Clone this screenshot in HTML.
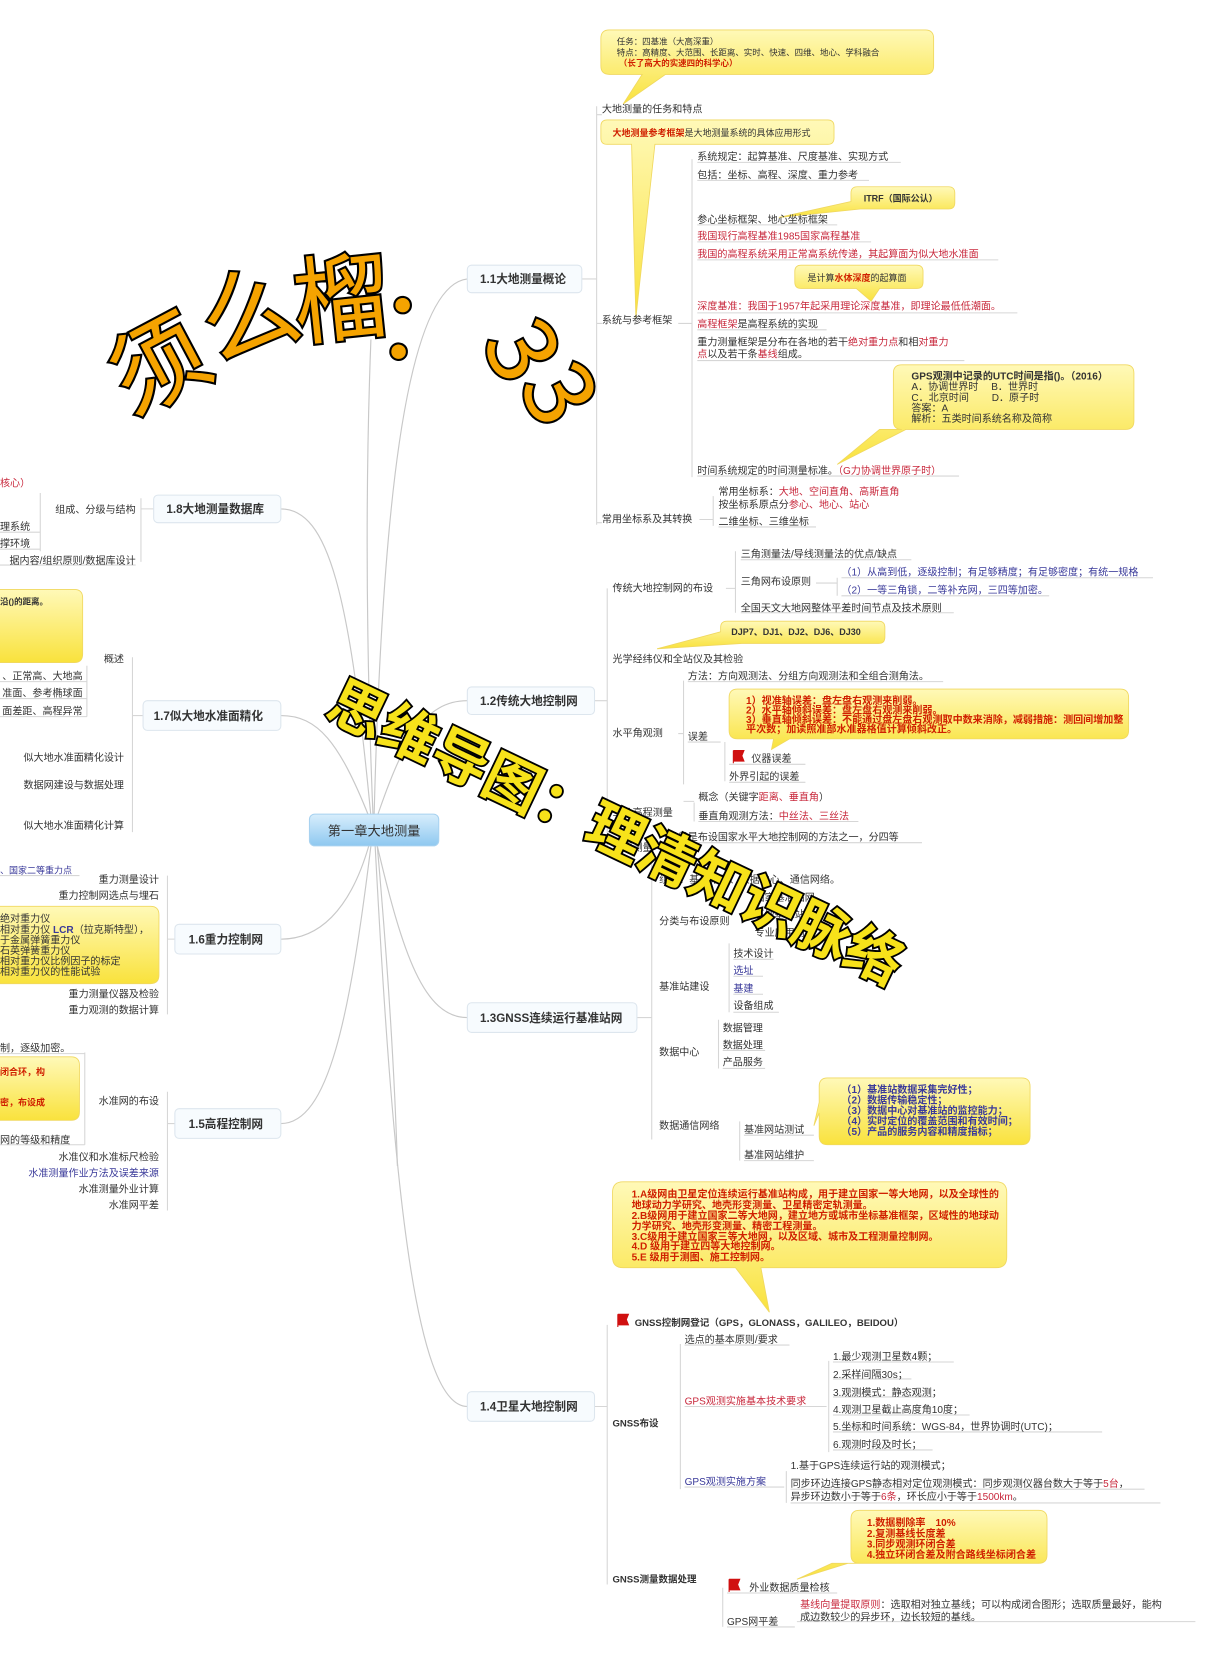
<!DOCTYPE html>
<html><head><meta charset="utf-8"><style>
html,body{margin:0;padding:0;background:#fff;}
svg{display:block;}
text{font-family:"Liberation Sans","Noto Sans CJK SC",sans-serif;font-size:9.5px;fill:#333;}
.b{font-weight:bold;}
.r{fill:#c8283c;}
.o{fill:#d02000;font-weight:bold;}
.bl{fill:#3a3a9a;}
.n{font-size:11px;font-weight:bold;fill:#333;}
.wm1{font-family:"Noto Sans CJK SC",sans-serif;font-size:90px;font-weight:normal;fill:#f5a300;stroke:#000;stroke-width:4px;paint-order:stroke;}
.wm2{font-family:"Noto Sans CJK SC",sans-serif;font-size:54px;font-weight:bold;fill:#f7e21a;stroke:#000;stroke-width:3.5px;paint-order:stroke;}
</style></head><body>
<svg width="1224" height="1660" viewBox="0 0 1155 1566" xmlns="http://www.w3.org/2000/svg">
<defs>
<linearGradient id="y" x1="0" y1="0" x2="0" y2="1"><stop offset="0" stop-color="#fff9b8"/><stop offset="1" stop-color="#f9e23c"/></linearGradient>
<linearGradient id="bg" x1="0" y1="0" x2="0" y2="1"><stop offset="0" stop-color="#d8eefc"/><stop offset="1" stop-color="#8ec8f0"/></linearGradient>
</defs>

<g fill="none" stroke="#c8c8c8" stroke-width="1.1">
<path d="M353 770 C360 500 380 270 441 263"/>
<path d="M350 770 C330 560 310 480 265 480"/>
<path d="M348 770 C320 700 300 675 265 675"/>
<path d="M356 770 C380 700 400 661 441 661"/>
<path d="M348 798 C330 860 300 886 265 886"/>
<path d="M356 798 C380 900 400 960 441 960"/>
<path d="M350 798 C330 960 310 1060 265 1060"/>
<path d="M354 798 C370 1100 390 1327 441 1327"/>
<path d="M352 770 C345 600 345 450 350 320"/>
<path d="M356 798 C365 900 372 1000 375 1100"/>
</g>
<g fill="none" stroke="#d6d6d6" stroke-width="1">
<path d="M549 263 H563 M563 100 V495 M563 108 H568 M563 305 H568 M563 493 H568"/>
<path d="M640 305 H653 M653 150 V450"/>
<path d="M658 153 H850 M658 170 H820 M658 212 H790 M658 228 H822 M658 245 H942 M658 295 H960 M658 311 H780 M658 340 H910 M658 449 H905"/>
<path d="M660 490 H673 M673 468 V496 M678 497 H770"/>
<path d="M561 661 H573 M573 555 V800"/>
<path d="M685 555 H694 M694 520 V578 M699 578 H900 M699 528 H860 M770 550 H790 M790 545 V562 M794 545 H1088 M794 562 H990"/>
<path d="M640 692 H645 M645 642 V740 M649 643 H890 M649 700 H680 M684 700 V737 M688 721 H760 M688 738 H760"/>
<path d="M645 756 H655 M655 757 V775 M659 775 H810"/>
<path d="M630 795 H870"/>
<path d="M601 960 H615 M615 815 V1075"/>
<path d="M688 890 V955 M692 905 H730 M692 921 H720 M692 938 H720 M692 955 H735"/>
<path d="M678 962 V1008 M682 991 H722 M682 1008 H722"/>
<path d="M698 1058 V1095 M702 1071 H768 M702 1095 H768"/>
<path d="M561 1327 H573 M573 1250 V1495"/>
<path d="M642 1268 V1405 M646 1269 H745 M646 1327 H780 M782 1284 V1370 M786 1285 H900 M786 1301 H860 M786 1318 H880 M786 1335 H915 M786 1351 H1040 M786 1368 H880"/>
<path d="M742 1388 V1418 M746 1405 H1080 M746 1418 H1095 M646 1403 H740"/>
<path d="M682 1498 V1535 M686 1503 H790 M686 1535 H750 M752 1530 H1128"/>
<path d="M145 480 H133 M133 470 V530 M38 465 V520 M0 502 H38 M0 518 H38 M0 533 H128"/>
<path d="M135 675 H125 M125 620 V785 M0 643 H82 M82 628 V676 M0 659 H82 M0 676 H82"/>
<path d="M165 886 H158 M158 826 V957 M0 826 H75"/>
<path d="M165 1060 H158 M158 1030 V1142 M0 994 H80 M80 993 V1080 M0 1080 H80"/>
</g>

<g fill="url(#y)" stroke="#f0d860" stroke-width="0.8">
<path d="M575 28 H873 Q881 28 881 36 V62 Q881 70 873 70 H628 L588 98 L606 70 H575 Q567 70 567 62 V36 Q567 28 575 28Z"/>
<path d="M573 113 H781 Q787 113 787 119 V130 Q787 136 781 136 H618 L600 300 L596 136 H573 Q567 136 567 130 V119 Q567 113 573 113Z"/>
<path d="M809 176 H895 Q901 176 901 182 V191 Q901 197 895 197 H812 L735 205 L803 190 V182 Q803 176 809 176Z"/>
<path d="M756 250 H865 Q871 250 871 256 V266 Q871 272 865 272 H830 L822 284 L808 272 H756 Q750 272 750 266 V256 Q750 250 756 250Z"/>
<path d="M851 344 H1062 Q1070 344 1070 352 V397 Q1070 405 1062 405 H855 L790 438 L830 405 H851 Q843 405 843 397 V352 Q843 344 851 344Z"/>
<path d="M686 586 H829 Q835 586 835 592 V601 Q835 607 829 607 H700 L620 612 L680 596 V592 Q680 586 686 586Z"/>
<path d="M696 650 H1057 Q1065 650 1065 658 V689 Q1065 697 1057 697 H745 L728 707 L730 697 H696 Q688 697 688 689 V658 Q688 650 696 650Z"/>
<path d="M781 1017 H964 Q972 1017 972 1025 V1072 Q972 1080 964 1080 H781 Q773 1080 773 1072 V1050 L768 1062 L773 1040 V1025 Q773 1017 781 1017Z"/>
<path d="M588 1115 H940 Q950 1115 950 1125 V1186 Q950 1196 940 1196 H718 L726 1238 L694 1196 H588 Q578 1196 578 1186 V1125 Q578 1115 588 1115Z"/>
<path d="M811 1425 H980 Q988 1425 988 1433 V1467 Q988 1475 980 1475 H800 L752 1490 L785 1475 H811 Q803 1475 803 1467 V1433 Q803 1425 811 1425Z"/>
<path d="M-10 556 H70 Q78 556 78 564 V617 Q78 625 70 625 H-10Z"/>
<path d="M-10 855 H142 Q150 855 150 863 V920 Q150 928 142 928 H-10Z"/>
<path d="M-10 997 H67 Q75 997 75 1005 V1049 Q75 1057 67 1057 H-10Z"/>
</g>

<g fill="#f7fbfe" stroke="#dde6ee" stroke-width="1">
<rect x="441" y="250" width="108" height="26" rx="4"/>
<rect x="145" y="467" width="120" height="26" rx="4"/>
<rect x="135" y="661" width="130" height="28" rx="4"/>
<rect x="441" y="648" width="120" height="26" rx="4"/>
<rect x="165" y="872" width="100" height="28" rx="4"/>
<rect x="441" y="946" width="160" height="28" rx="4"/>
<rect x="165" y="1046" width="100" height="28" rx="4"/>
<rect x="441" y="1313" width="120" height="28" rx="4"/>
</g>
<rect x="292" y="768" width="122" height="30" rx="5" fill="url(#bg)" stroke="#a8d2f0"/>
<text x="353" y="788" text-anchor="middle" style="font-size:12.5px;fill:#333">第一章大地测量</text>
<text class="n" x="453" y="267">1.1大地测量概论</text>
<text class="n" x="157" y="484">1.8大地测量数据库</text>
<text class="n" x="145" y="679">1.7似大地水准面精化</text>
<text class="n" x="453" y="665">1.2传统大地控制网</text>
<text class="n" x="178" y="890">1.6重力控制网</text>
<text class="n" x="453" y="964">1.3GNSS连续运行基准站网</text>
<text class="n" x="178" y="1064">1.5高程控制网</text>
<text class="n" x="453" y="1331">1.4卫星大地控制网</text>

<text x="582" y="42" style="font-size:8px">任务：四基准（大高深重）</text>
<text x="582" y="52" style="font-size:8px">特点：高精度、大范围、长距离、实时、快速、四维、地心、学科融合</text>
<text x="584" y="62" style="font-size:8px" class="o">（长了高大的实速四的科学心）</text>
<text x="568" y="106">大地测量的任务和特点</text>
<text x="578" y="128" style="font-size:8.5px"><tspan class="o">大地测量参考框架</tspan>是大地测量系统的具体应用形式</text>
<text x="658" y="151">系统规定：起算基准、尺度基准、实现方式</text>
<text x="658" y="168">包括：坐标、高程、深度、重力参考</text>
<text x="815" y="190" class="b" style="font-size:8.5px">ITRF（国际公认）</text>
<text x="658" y="210">参心坐标框架、地心坐标框架</text>
<text x="658" y="226" class="r">我国现行高程基准1985国家高程基准</text>
<text x="658" y="243" class="r">我国的高程系统采用正常高系统传递，其起算面为似大地水准面</text>
<text x="762" y="265" style="font-size:8.5px">是计算<tspan class="o">水体深度</tspan>的起算面</text>
<text x="658" y="292" class="r">深度基准：我国于1957年起采用理论深度基准，即理论最低低潮面。</text>
<text x="568" y="305">系统与参考框架</text>
<text x="658" y="309"><tspan class="r">高程框架</tspan>是高程系统的实现</text>
<text x="658" y="326">重力测量框架是分布在各地的若干<tspan class="r">绝对重力点</tspan>和相<tspan class="r">对重力</tspan></text>
<text x="658" y="337"><tspan class="r">点</tspan>以及若干条<tspan class="r">基线</tspan>组成。</text>
<g style="font-size:8px"><text x="860" y="358" class="b">GPS观测中记录的UTC时间是指()。（2016）</text>
<text x="860" y="368">A．协调世界时　 B．世界时</text>
<text x="860" y="378">C．北京时间　　 D．原子时</text>
<text x="860" y="388">答案：A</text>
<text x="860" y="398">解析：五类时间系统名称及简称</text></g>
<text x="658" y="447">时间系统规定的时间测量标准。<tspan class="r">（G力协调世界原子时）</tspan></text>
<text x="678" y="467">常用坐标系：<tspan class="r">大地、空间直角、高斯直角</tspan></text>
<text x="678" y="479">按坐标系原点分<tspan class="r">参心、地心、站心</tspan></text>
<text x="568" y="493">常用坐标系及其转换</text>
<text x="678" y="495">二维坐标、三维坐标</text>

<text x="699" y="526">三角测量法/导线测量法的优点/缺点</text>
<text x="794" y="543" class="bl">（1）从高到低，逐级控制；有足够精度；有足够密度；有统一规格</text>
<text x="699" y="552">三角网布设原则</text>
<text x="578" y="558">传统大地控制网的布设</text>
<text x="794" y="560" class="bl">（2）一等三角锁，二等补充网，三四等加密。</text>
<text x="699" y="577">全国天文大地网整体平差时间节点及技术原则</text>
<text x="690" y="599" class="b" style="font-size:8.5px">DJP7、DJ1、DJ2、DJ6、DJ30</text>
<text x="578" y="625">光学经纬仪和全站仪及其检验</text>
<text x="649" y="641">方法：方向观测法、分组方向观测法和全组合测角法。</text>
<g style="font-size:7.6px"><text x="704" y="664" class="o">1）视准轴误差：盘左盘右观测来削弱。</text>
<text x="704" y="673" class="o">2）水平轴倾斜误差：盘左盘右观测来削弱。</text>
<text x="704" y="682" class="o">3）垂直轴倾斜误差：不能通过盘左盘右观测取中数来消除，减弱措施：测回间增加整</text>
<text x="704" y="691" class="o">平次数；加读照准部水准器格值计算倾斜改正。</text></g>
<text x="578" y="695">水平角观测</text>
<text x="649" y="698">误差</text>
<path d="M692 708 V720 M692 708 H702 L700 713 L702 718 H692" fill="#d01010" stroke="#d01010" stroke-width="1"/>
<text x="709" y="719">仪器误差</text>
<text x="688" y="736">外界引起的误差</text>
<text x="659" y="755">概念（关键字<tspan class="r">距离、垂直角</tspan>）</text>
<text x="578" y="770">三角高程测量</text>
<text x="659" y="773">垂直角观测方法：<tspan class="r">中丝法、三丝法</tspan></text>
<text x="630" y="793">导线是布设国家水平大地控制网的方法之一，分四等</text>
<text x="578" y="803">导线测量</text>

<text x="622" y="833">组成：基准站网、数据中心、通信网络。</text>
<text x="712" y="850">国家基准站网</text>
<text x="712" y="866">区域基准站网</text>
<text x="622" y="872">分类与布设原则</text>
<text x="712" y="883">专业应用网</text>
<text x="692" y="903">技术设计</text>
<text x="692" y="919" class="bl">选址</text>
<text x="692" y="936" class="bl">基建</text>
<text x="622" y="934">基准站建设</text>
<text x="692" y="952">设备组成</text>
<text x="682" y="973">数据管理</text>
<text x="682" y="989">数据处理</text>
<text x="622" y="996">数据中心</text>
<text x="682" y="1005">产品服务</text>
<g style="font-size:7.8px"><text x="794" y="1031" class="bl b">（1）基准站数据采集完好性；</text>
<text x="794" y="1041" class="bl b">（2）数据传输稳定性；</text>
<text x="794" y="1051" class="bl b">（3）数据中心对基准站的监控能力；</text>
<text x="794" y="1061" class="bl b">（4）实时定位的覆盖范围和有效时间；</text>
<text x="794" y="1071" class="bl b">（5）产品的服务内容和精度指标；</text></g>
<text x="622" y="1065">数据通信网络</text>
<text x="702" y="1069">基准网站测试</text>
<text x="702" y="1093">基准网站维护</text>

<g style="font-size:7.6px"><text x="596" y="1130" class="o">1.A级网由卫星定位连续运行基准站构成，用于建立国家一等大地网，以及全球性的</text>
<text x="596" y="1140" class="o">地球动力学研究、地壳形变测量、卫星精密定轨测量。</text>
<text x="596" y="1150" class="o">2.B级网用于建立国家二等大地网，建立地方或城市坐标基准框架，区域性的地球动</text>
<text x="596" y="1160" class="o">力学研究、地壳形变测量、精密工程测量。</text>
<text x="596" y="1170" class="o">3.C级用于建立国家三等大地网，以及区域、城市及工程测量控制网。</text>
<text x="596" y="1179" class="o">4.D 级用于建立四等大地控制网。</text>
<text x="596" y="1189" class="o">5.E 级用于测图、施工控制网。</text></g>
<path d="M583 1240 V1252 M583 1240 H593 L591 1245 L593 1250 H583" fill="#d01010" stroke="#d01010"/>
<text x="599" y="1251" class="b" style="font-size:9px">GNSS控制网登记（GPS，GLONASS，GALILEO，BEIDOU）</text>
<text x="646" y="1267">选点的基本原则/要求</text>
<text x="786" y="1283">1.最少观测卫星数4颗；</text>
<text x="786" y="1300">2.采样间隔30s；</text>
<text x="786" y="1317">3.观测模式：静态观测；</text>
<text x="646" y="1325" class="r">GPS观测实施基本技术要求</text>
<text x="786" y="1333">4.观测卫星截止高度角10度；</text>
<text x="578" y="1346" class="b" style="font-size:9px">GNSS布设</text>
<text x="786" y="1349">5.坐标和时间系统：WGS-84，世界协调时(UTC)；</text>
<text x="786" y="1366">6.观测时段及时长；</text>
<text x="746" y="1386">1.基于GPS连续运行站的观测模式；</text>
<text x="646" y="1401" class="bl">GPS观测实施方案</text>
<text x="746" y="1403">同步环边连接GPS静态相对定位观测模式：同步观测仪器台数大于等于<tspan class="r">5台</tspan>，</text>
<text x="746" y="1415">异步环边数小于等于<tspan class="r">6条</tspan>，环长应小于等于<tspan class="r">1500km</tspan>。</text>
<g style="font-size:8px"><text x="818" y="1440" class="o">1.数据剔除率　10%</text>
<text x="818" y="1450" class="o">2.复测基线长度差</text>
<text x="818" y="1460" class="o">3.同步观测环闭合差</text>
<text x="818" y="1470" class="o">4.独立环闭合差及附合路线坐标闭合差</text></g>
<text x="578" y="1493" class="b" style="font-size:9px">GNSS测量数据处理</text>
<path d="M688 1490 V1502 M688 1490 H698 L696 1495 L698 1500 H688" fill="#d01010" stroke="#d01010"/>
<text x="707" y="1501">外业数据质量检核</text>
<text x="755" y="1517"><tspan class="r">基线向量提取原则</tspan>：选取相对独立基线；可以构成闭合图形；选取质量最好，能构</text>
<text x="755" y="1529">成边数较少的异步环，边长较短的基线。</text>
<text x="686" y="1533">GPS网平差</text>

<text x="0" y="459" class="r">核心）</text>
<text x="128" y="484" text-anchor="end">组成、分级与结构</text>
<text x="0" y="500">理系统</text>
<text x="0" y="516">撑环境</text>
<text x="128" y="532" text-anchor="end">据内容/组织原则/数据库设计</text>
<text x="0" y="570" style="font-size:8px" class="b">沿()的距离。</text>
<text x="117" y="625" text-anchor="end">概述</text>
<text x="78" y="641" text-anchor="end">、正常高、大地高</text>
<text x="78" y="657" text-anchor="end">准面、参考椭球面</text>
<text x="78" y="674" text-anchor="end">面差距、高程异常</text>
<text x="117" y="718" text-anchor="end">似大地水准面精化设计</text>
<text x="117" y="744" text-anchor="end">数据网建设与数据处理</text>
<text x="117" y="782" text-anchor="end">似大地水准面精化计算</text>
<text x="0" y="824" class="bl" style="font-size:8.5px">、国家二等重力点</text>
<text x="150" y="833" text-anchor="end">重力测量设计</text>
<text x="150" y="848" text-anchor="end">重力控制网选点与埋石</text>
<g style="font-size:7.5px"><text x="0" y="870">绝对重力仪</text>
<text x="0" y="880">相对重力仪 <tspan class="bl b">LCR</tspan>（拉克斯特型），</text>
<text x="0" y="890">于金属弹簧重力仪</text>
<text x="0" y="900">石英弹簧重力仪</text>
<text x="0" y="910">相对重力仪比例因子的标定</text>
<text x="0" y="920">相对重力仪的性能试验</text></g>
<text x="150" y="941" text-anchor="end">重力测量仪器及检验</text>
<text x="150" y="956" text-anchor="end">重力观测的数据计算</text>
<text x="0" y="992">制，逐级加密。</text>
<text x="0" y="1014" class="o" style="font-size:8.5px">闭合环，构</text>
<text x="0" y="1043" class="o" style="font-size:8.5px">密，布设成</text>
<text x="150" y="1042" text-anchor="end">水准网的布设</text>
<text x="0" y="1079">网的等级和精度</text>
<text x="150" y="1095" text-anchor="end">水准仪和水准标尺检验</text>
<text x="150" y="1110" text-anchor="end" class="bl">水准测量作业方法及误差来源</text>
<text x="150" y="1125" text-anchor="end">水准测量外业计算</text>
<text x="150" y="1140" text-anchor="end">水准网平差</text>

<text class="wm1" transform="translate(165,372) rotate(-28)" text-anchor="middle">须</text>
<text class="wm1" transform="translate(245,326) rotate(-18)" text-anchor="middle">么</text>
<text class="wm1" transform="translate(325,314) rotate(-6)" text-anchor="middle">榴</text>
<text class="wm1" transform="translate(398,340) rotate(5)" text-anchor="middle">：</text>
<text class="wm1" transform="translate(465,345) rotate(62)" text-anchor="middle">3</text>
<text class="wm1" transform="translate(500,386) rotate(62)" text-anchor="middle">3</text>
<text class="wm2" transform="translate(305,675) rotate(25.5)">思维导图：理清知识脉络</text>
</svg>
</body></html>
